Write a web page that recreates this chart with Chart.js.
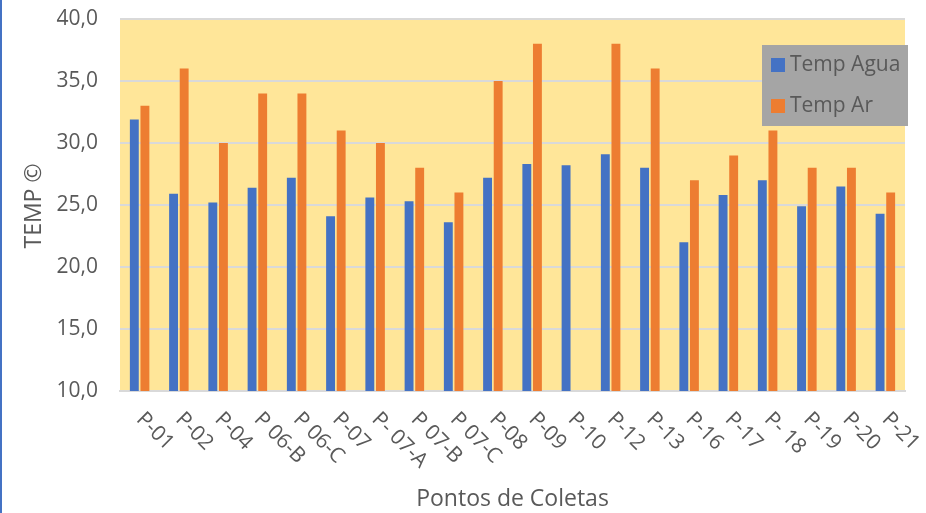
<!DOCTYPE html>
<html>
<head>
<meta charset="utf-8">
<script src="https://cdn.jsdelivr.net/npm/chart.js@4/dist/chart.umd.min.js"></script>
<style>
  html, body { margin: 0; padding: 0; background: #ffffff; }
  body { width: 926px; height: 513px; position: relative; overflow: hidden; }
  #edge { position: absolute; left: 0; top: 0; width: 2px; height: 513px; background: #4472C4; }
  canvas { display: block; }
</style>
</head>
<body>
<div id="edge"></div>
<canvas id="c" width="926" height="513"></canvas>
<script>
// Sampling points (Pontos de Coletas)
const categories = ["P-01", "P-02", "P-04", "P 06-B", "P 06-C", "P-07", "P- 07-A", "P 07-B", "P 07-C", "P-08",
                    "P-09", "P-10", "P-12", "P-13", "P-16", "P-17", "P- 18", "P-19", "P-20", "P-21"];
// Water temperature (°C)
const tempAgua = [31.9, 25.9, 25.2, 26.4, 27.2, 24.1, 25.6, 25.3, 23.6, 27.2,
                  28.3, 28.2, 29.1, 28.0, 22.0, 25.8, 27.0, 24.9, 26.5, 24.3];
// Air temperature (°C)
const tempAr = [33, 36, 30, 34, 34, 31, 30, 28, 26, 35,
                38, 0, 38, 36, 27, 29, 31, 28, 28, 26];
const seriesNames = ["Temp Agua", "Temp Ar"];
const yTicks = [10, 15, 20, 25, 30, 35, 40];

const TEXT = '#595959';
const FONT = '"Open Sans", "Noto Sans", sans-serif';

const plotBackground = {
  id: 'plotBackground',
  beforeDraw(chart) {
    const { ctx, chartArea: a } = chart;
    ctx.save();
    ctx.fillStyle = '#FFE699';
    ctx.fillRect(a.left, a.top, a.right - a.left, a.bottom - a.top);
    ctx.restore();
  }
};

const extras = {
  id: 'extras',
  afterDraw(chart) {
    const { ctx, chartArea: a } = chart;
    const xs = chart.scales.x;
    ctx.save();
    ctx.fillStyle = TEXT;

    // rotated category labels
    ctx.font = '21px ' + FONT;
    ctx.textAlign = 'left';
    ctx.textBaseline = 'middle';
    categories.forEach((lab, i) => {
      const x = xs.getPixelForTick(i);
      ctx.save();
      ctx.translate(x, a.bottom + 25);
      ctx.rotate(Math.PI / 4);
      ctx.fillText(lab, 0, 0);
      ctx.restore();
    });

    // axis titles
    ctx.font = '23px ' + FONT;
    ctx.textAlign = 'center';
    ctx.textBaseline = 'alphabetic';
    ctx.fillText('Pontos de Coletas', (a.left + a.right) / 2, 506);
    ctx.save();
    ctx.translate(34, 206);
    ctx.rotate(-Math.PI / 2);
    ctx.textBaseline = 'middle';
    ctx.fillText('TEMP \u00A9', 0, 0);
    ctx.restore();

    // legend box
    const lx = 762, ly = 45, lw = 146, lh = 81;
    ctx.fillStyle = '#A5A5A5';
    ctx.fillRect(lx, ly, lw, lh);
    ctx.font = '21px ' + FONT;
    ctx.textAlign = 'left';
    ctx.textBaseline = 'middle';
    chart.data.datasets.forEach((ds, i) => {
      const cy = 65 + i * 41;
      ctx.fillStyle = ds.backgroundColor;
      ctx.fillRect(771, cy - 7, 14, 14);
      ctx.fillStyle = TEXT;
      ctx.fillText(ds.label, 790, cy);
    });
    ctx.restore();
  }
};

new Chart(document.getElementById('c'), {
  type: 'bar',
  data: {
    labels: categories,
    datasets: [
      { label: seriesNames[0], data: tempAgua, backgroundColor: '#4472C4',
        categoryPercentage: 0.54, barPercentage: 0.84 },
      { label: seriesNames[1], data: tempAr, backgroundColor: '#ED7D31',
        categoryPercentage: 0.54, barPercentage: 0.84 }
    ]
  },
  options: {
    responsive: false,
    animation: false,
    layout: { padding: { left: 0, right: 21, top: 19, bottom: 0 } },
    plugins: {
      legend: { display: false },
      tooltip: { enabled: false }
    },
    scales: {
      x: {
        grid: { display: false },
        border: { display: true, color: '#D9D9D9', width: 2 },
        ticks: { display: false },
        afterFit(scale) { scale.height = 122; scale.paddingLeft = 0; scale.paddingRight = 0; }
      },
      y: {
        min: yTicks[0],
        max: yTicks[yTicks.length - 1],
        afterBuildTicks(scale) { scale.ticks = yTicks.map(v => ({ value: v })); },
        grid: { color: '#D9D9D9', lineWidth: 2, drawTicks: false },
        border: { display: false },
        ticks: {
          color: TEXT,
          font: { family: FONT, size: 21 },
          padding: 22,
          callback: v => v.toFixed(1).replace('.', ',')
        },
        afterFit(scale) { scale.width = 120; scale.paddingTop = 0; scale.paddingBottom = 0; }
      }
    }
  },
  plugins: [plotBackground, extras]
});
</script>
</body>
</html>
